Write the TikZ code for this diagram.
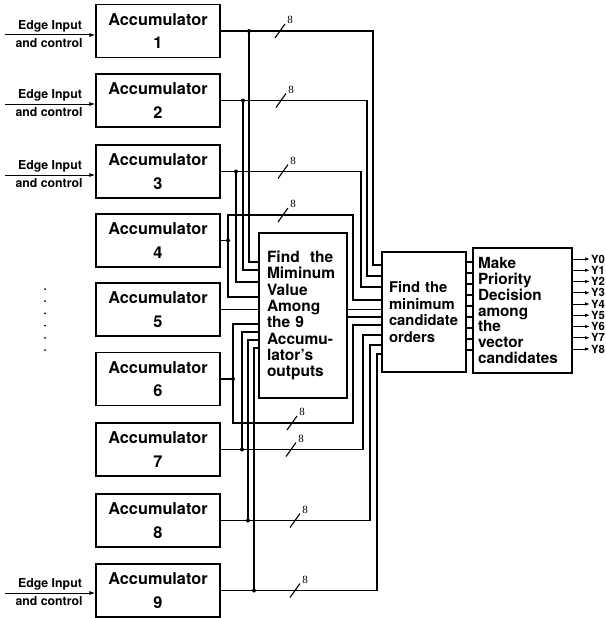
\documentclass[tikz,border=0pt]{standalone}
\usepackage{fontspec}
\setmainfont{TeX Gyre Heros}
\newfontfamily\busfont{Liberation Serif}
\usetikzlibrary{arrows.meta,calc}
\begin{document}
\begin{tikzpicture}[x=1pt,y=-1pt,
  acc/.style={draw,line width=1.3pt,minimum width=124pt,minimum height=53pt,inner sep=0pt,align=center,font=\fontsize{16.3}{23.5}\selectfont\bfseries},
  blk/.style={draw,line width=1.3pt,inner ysep=0pt,align=left},
  wire/.style={line width=1.1pt},
  jdot/.style={circle,fill,inner sep=0pt,minimum size=4pt},
  inarrow/.style={line width=1pt,-{Latex[length=6pt,width=4pt]}},
  outarrow/.style={line width=1pt,-{Latex[length=5pt,width=3.5pt]}},
  lbl/.style={font=\fontsize{12.3}{13}\selectfont\bfseries,inner sep=0pt},
  ylbl/.style={font=\fontsize{11.3}{12}\selectfont\bfseries,inner sep=0pt,anchor=west},
  busno/.style={font=\fontsize{11}{12}\selectfont\busfont,inner sep=0pt},
  vdot/.style={circle,fill,inner sep=0pt,minimum size=2pt}
]
\useasboundingbox (0,0) rectangle (605,618);

% accumulators
\node[acc] (a1) at (158,31) {Accumulator\\1};
\node[acc] (a2) at (158,100.5) {Accumulator\\2};
\node[acc] (a3) at (158,171.5) {Accumulator\\3};
\node[acc] (a4) at (158,240.5) {Accumulator\\4};
\node[acc] (a5) at (158,309.5) {Accumulator\\5};
\node[acc] (a6) at (158,379) {Accumulator\\6};
\node[acc] (a7) at (158,449.5) {Accumulator\\7};
\node[acc] (a8) at (158,520.5) {Accumulator\\8};
\node[acc] (a9) at (158,590.5) {Accumulator\\9};

% processing blocks
\node[blk,minimum height=165pt,text width=72pt,inner xsep=8pt,font=\fontsize{15.5}{16.3}\selectfont\bfseries] (fm) at (303,315.5)
  {Find\ \ the\\Miminum\\Value\\Among\\the 9\\Accumu-\\lator's\\outputs};
\node[blk,minimum height=120pt,text width=70pt,inner xsep=7pt,font=\fontsize{14.8}{16.7}\selectfont\bfseries] (cand) at (424,312)
  {Find the\\minimum\\candidate\\orders};
\node[blk,minimum height=125pt,text width=89pt,inner xsep=5pt,font=\fontsize{15.3}{15.8}\selectfont\bfseries] (prio) at (522.5,310.5)
  {Make\\Priority\\Decision\\among\\the\\vector\\candidates};

% edge inputs
\foreach \n/\y in {1/35,2/104,3/175,9/593}{
  \coordinate (i\n) at (5,\y);
  \draw[inarrow] (i\n) -- (a\n.west |- i\n);
  \node[lbl] (e\n) at (50,\y-8.5) {Edge Input};
  \node[lbl] (c\n) at (49,\y+8.5) {and control};
}

% vertical dots
\foreach \i in {0,...,5}{
  \node[vdot] (v\i) at (45,{289+12.2*\i}) {};
}

% junctions
\coordinate (d1) at (249,31);
\coordinate (d2) at (243,100.5);
\coordinate (d3) at (236,171.5);
\coordinate (d4) at (228,240.5);
\coordinate (d6) at (233,379);
\coordinate (d7) at (242,449.5);
\coordinate (d8) at (248,520.5);
\coordinate (d9) at (254,590.5);

% accumulator 1-3
\draw[wire] (a1.east) -- (373,31) |- (cand.west |- 0,265);
\draw[wire] (d1) |- (fm.west |- 0,262);
\draw[wire] (a2.east) -- (367,100.5) |- (cand.west |- 0,276);
\draw[wire] (d2) |- (fm.west |- 0,270);
\draw[wire] (a3.east) -- (361,171.5) |- (cand.west |- 0,287);
\draw[wire] (d3) |- (fm.west |- 0,282);
% accumulator 4
\draw[wire] (a4.east) -- (d4);
\draw[wire] (fm.west |- 0,297) -| (228,215) -| (353,300) -- (cand.west |- 0,300);
% accumulator 5 and minimum value
\draw[wire] (a5.east) -- (fm.west |- a5.east);
\draw[wire] (fm.east |- 0,309.5) -- (cand.west |- 0,309.5);
\draw[wire] (fm.east |- 0,317) -- (cand.west |- 0,317);
% accumulator 6
\draw[wire] (a6.east) -- (d6);
\draw[wire] (fm.west |- 0,324) -| (233,423) -| (353,325) -- (cand.west |- 0,325);
% accumulator 7-9
\draw[wire] (a7.east) -- (363,449.5) |- (cand.west |- 0,335);
\draw[wire] (d7) |- (fm.west |- 0,332);
\draw[wire] (a8.east) -- (370,520.5) |- (cand.west |- 0,345);
\draw[wire] (d8) |- (fm.west |- 0,340);
\draw[wire] (a9.east) -- (377,590.5) |- (cand.west |- 0,354);
\draw[wire] (d9) |- (fm.west |- 0,348);

\foreach \d in {d1,d2,d3,d4,d6,d7,d8,d9}{
  \node[jdot] at (\d) {};
}

% bus width marks
\foreach \k/\x/\y in {1/280/31,2/281/100.5,3/283/171.5,4/283/215,5/292/423,6/291/449.5,7/295/520.5,8/295/590.5}{
  \draw[wire] (\x-5,\y+7) -- (\x+5,\y-7);
  \node[busno] (b\k) at (\x+10,\y-11) {8};
}

% links between candidate and priority blocks
\foreach \i in {0,...,8}{
  \draw[wire] (cand.east |- 0,{262+11*\i}) -- (prio.west |- 0,{262+11*\i});
}

% outputs
\foreach \i in {0,...,8}{
  \coordinate (o\i) at (590,{259+11.25*\i});
  \draw[outarrow] (prio.east |- o\i) -- (o\i);
  \node[ylbl] (y\i) at ([xshift=1pt]o\i) {Y\i};
}
\end{tikzpicture}
\end{document}
